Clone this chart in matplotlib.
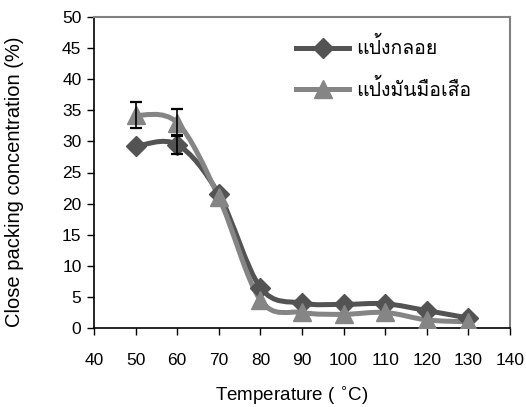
import numpy as np
import matplotlib
matplotlib.use("Agg")
import matplotlib.pyplot as plt
from matplotlib import font_manager
from matplotlib.ft2font import FT2Font
from matplotlib.path import Path
from matplotlib.patches import PathPatch
from matplotlib.lines import Line2D

# ---- data ----
temps = [50, 60, 70, 80, 90, 100, 110, 120, 130]
klo = [29.2, 29.5, 21.5, 6.5, 4.0, 3.8, 3.9, 2.8, 1.6]
klo_err = [0, 1.5, 0, 0, 0, 0, 0, 0, 0]
mue = [34.2, 33.0, 21.0, 4.5, 2.5, 2.2, 2.5, 1.3, 1.0]
mue_err = [2.1, 2.2, 0, 0, 0, 0, 0, 0, 0]
names = ["แป้งกลอย", "แป้งมันมือเสือ"]


def thai_family():
    for f in font_manager.fontManager.ttflist:
        try:
            if 0x0E01 in FT2Font(f.fname).get_charmap():
                return f.name
        except Exception:
            pass
    return "DejaVu Sans"


plt.rcParams["font.family"] = ["Liberation Sans", "DejaVu Sans"]
thai = thai_family()


def smooth_path(xs, ys):
    # piecewise Bezier through the points (Catmull-Rom style tangents)
    p = np.column_stack([xs, ys]).astype(float)
    n = len(p)
    verts = [p[0]]
    codes = [Path.MOVETO]
    for i in range(n - 1):
        p0 = p[i - 1] if i > 0 else p[i]
        p3 = p[i + 2] if i + 2 < n else p[i + 1]
        c1 = p[i] + (p[i + 1] - p0) / 6
        c2 = p[i + 1] - (p3 - p[i]) / 6
        verts += [c1, c2, p[i + 1]]
        codes += [Path.CURVE4] * 3
    return Path(verts, codes)


fig = plt.figure(figsize=(5.26, 4.07), dpi=100)
ax = fig.add_axes([94 / 526, 1 - 328 / 407, 416 / 526, 311 / 407])

LW = 3.6
series = [
    (klo, klo_err, "#535353", "D", 10.5),
    (mue, mue_err, "#858585", "^", 13),
]
for vals, err, col, mk, ms in series:
    ax.add_patch(PathPatch(smooth_path(temps, vals), fill=False,
                           edgecolor=col, lw=LW, capstyle="round", zorder=2))
    ax.plot(temps, vals, ls="none", marker=mk, ms=ms, color=col, mec=col, zorder=3)
    e = np.array(err)
    m = e > 0
    ax.errorbar(np.array(temps)[m], np.array(vals)[m], yerr=e[m], fmt="none",
                ecolor="black", elinewidth=1.2, capsize=4.5, capthick=1.6, zorder=4)

ax.set_xlim(40, 140)
ax.set_ylim(0, 50)
ax.set_xticks(range(40, 141, 10))
ax.set_yticks(range(0, 51, 5))
ax.tick_params(direction="out", length=5, width=1, labelsize=12.5, colors="black")
ax.tick_params(axis="x", pad=13)
ax.tick_params(axis="y", pad=4)
for s in ["top", "right"]:
    ax.spines[s].set_color("#808080")
    ax.spines[s].set_linewidth(1.5)
for s in ["left", "bottom"]:
    ax.spines[s].set_linewidth(1.2)

ax.set_xlabel("Temperature ( $^{\\circ}$C)", fontsize=13.5)
ax.xaxis.set_label_coords(0.475, -0.18)
ax.set_ylabel("Close packing concentration (%)", fontsize=14.5)
ax.yaxis.set_label_coords(-0.168, 0.47)

handles = [Line2D([], [], color=c, lw=LW, marker=m, ms=s) for _, _, c, m, s in series]
leg = ax.legend(handles, names, loc="upper left", bbox_to_anchor=(0.448, 0.985),
                frameon=False, handlelength=2.75, labelspacing=1.05, handletextpad=0.35,
                borderpad=0.3, prop={"family": [thai, "DejaVu Sans"], "size": 14})

fig.savefig("out.png", dpi=100)
